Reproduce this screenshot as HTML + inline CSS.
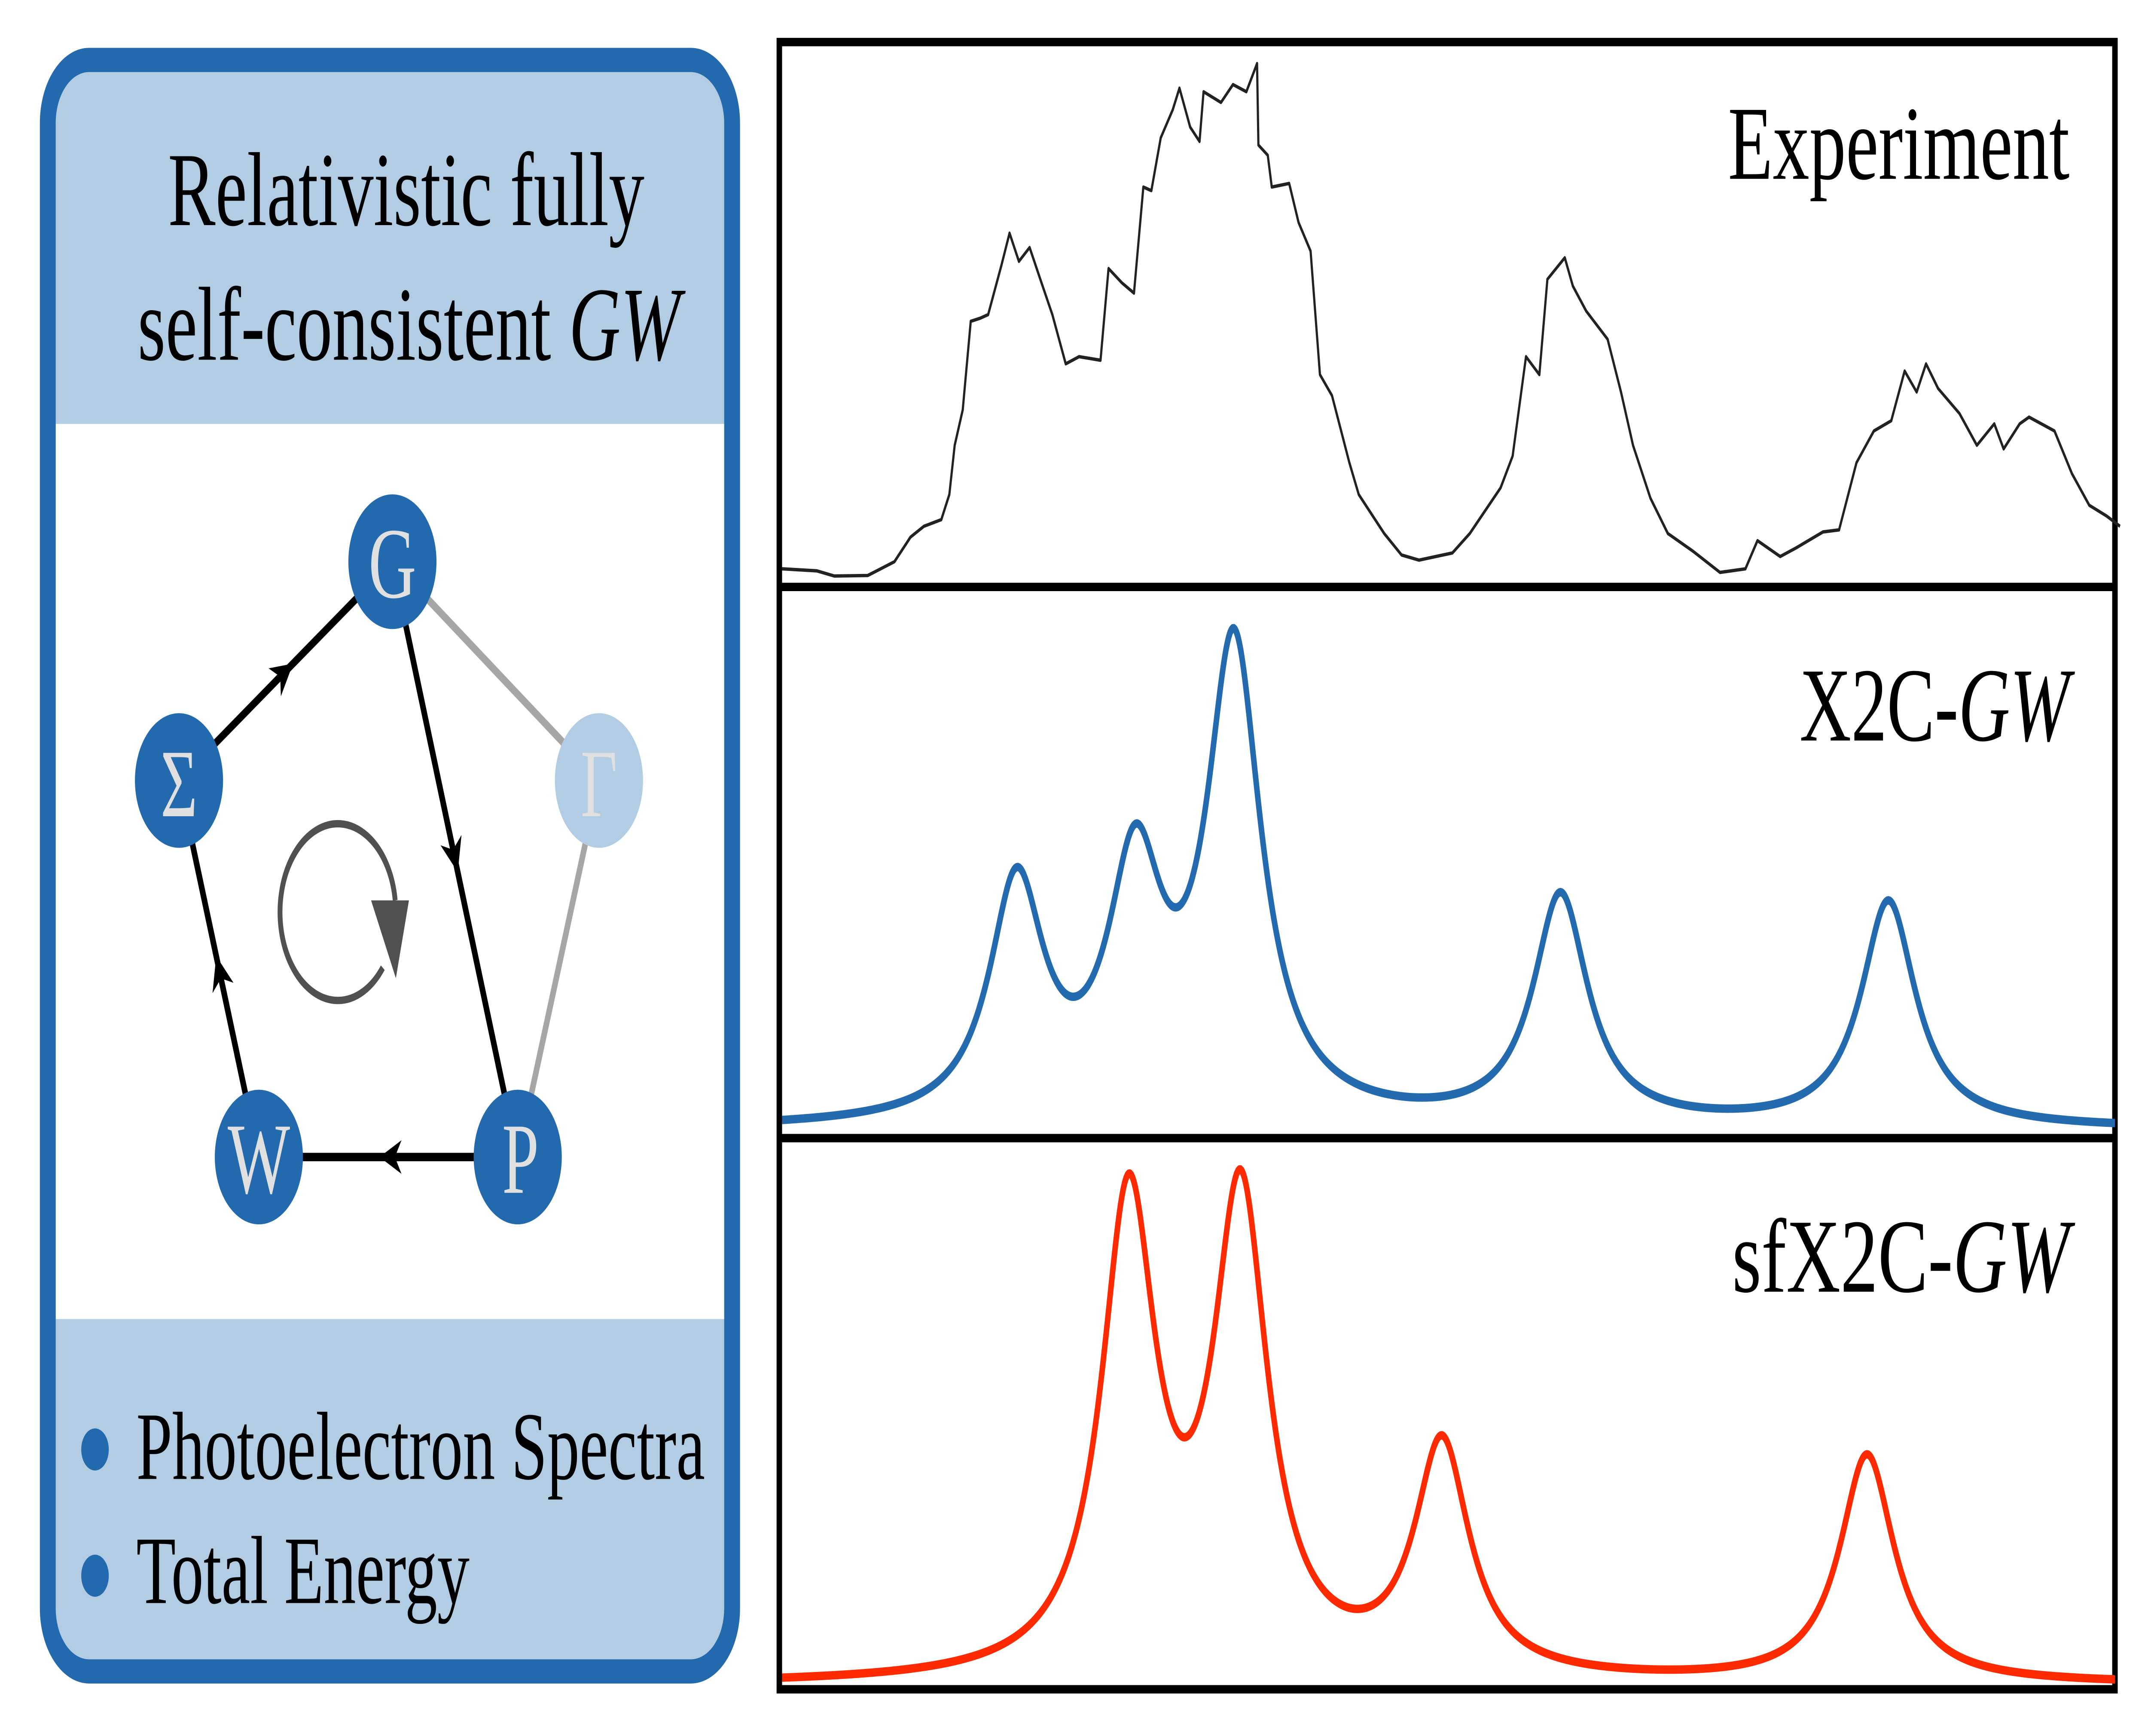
<!DOCTYPE html>
<html><head><meta charset="utf-8"><style>
html,body{margin:0;padding:0;background:#fff;overflow:hidden;width:100vw;height:100vh;}
svg{display:block;width:100vw;height:100vh;}
text{font-family:"Liberation Serif",serif;}
</style></head>
<body>
<svg id="fig" viewBox="0 0 1560 825.2" preserveAspectRatio="none" xmlns="http://www.w3.org/2000/svg">
<defs>
<marker id="arr" viewBox="0 0 10 10" refX="6" refY="5" markerWidth="4" markerHeight="4" orient="auto" markerUnits="strokeWidth">
<path d="M0,0 L10,5 L0,10 L3,5 z" fill="#000"/>
</marker>
</defs>
<g>
<rect x="34.7" y="28.5" width="497" height="766" rx="30" fill="#b2cce3"/>
<rect x="40.5" y="201.5" width="491" height="425.5" fill="#fff"/>
<rect x="34.7" y="28.5" width="497" height="766" rx="30" fill="none" stroke="#226aad" stroke-width="11.5"/>
<text x="122" y="107" font-size="50" textLength="346" lengthAdjust="spacingAndGlyphs">Relativistic fully</text>
<text x="100" y="171" font-size="50" textLength="394" lengthAdjust="spacingAndGlyphs">self-consistent <tspan font-style="italic">GW</tspan></text>

<line x1="285" y1="267" x2="435" y2="371" stroke="#a6a6a6" stroke-width="4"/>
<line x1="435" y1="371" x2="376" y2="550" stroke="#a6a6a6" stroke-width="4"/>
<polyline points="130,371 207.5,319 285,267" fill="none" stroke="#000" stroke-width="4" marker-mid="url(#arr)"/>
<polyline points="285,267 330.5,408.5 376,550" fill="none" stroke="#000" stroke-width="4" marker-mid="url(#arr)"/>
<polyline points="376,550 282,550 188,550" fill="none" stroke="#000" stroke-width="4" marker-mid="url(#arr)"/>
<polyline points="188,550 159,460.5 130,371" fill="none" stroke="#000" stroke-width="4" marker-mid="url(#arr)"/>

<path d="M278,460 A42 42 0 1 1 287,428" fill="none" stroke="#505050" stroke-width="3.5"/>
<polygon points="269.5,428 297,428 287.5,465" fill="#505050"/>

<g><circle cx="285" cy="267" r="32" fill="#226aad"/><text x="285" y="284" font-size="48" fill="#e0e0e0" text-anchor="middle">G</text></g>
<g><circle cx="130" cy="371" r="32" fill="#226aad"/><text x="130" y="388" font-size="46" fill="#e0e0e0" text-anchor="middle">Σ</text></g>
<g><circle cx="435" cy="371" r="32" fill="#b2cce3"/><text x="435" y="388" font-size="46" fill="#e0e0e0" text-anchor="middle">Γ</text></g>
<g><circle cx="188" cy="550" r="32" fill="#226aad"/><text x="188" y="567" font-size="48" fill="#e0e0e0" text-anchor="middle">W</text></g>
<g><circle cx="376" cy="550" r="32" fill="#226aad"/><text x="378" y="567" font-size="48" fill="#e0e0e0" text-anchor="middle">P</text></g>

<circle cx="69" cy="689" r="10" fill="#226aad"/>
<text x="99" y="703" font-size="46" textLength="413" lengthAdjust="spacingAndGlyphs">Photoelectron Spectra</text>
<circle cx="69" cy="749" r="10" fill="#226aad"/>
<text x="99" y="762" font-size="46" textLength="242" lengthAdjust="spacingAndGlyphs">Total Energy</text>
</g>

<g id="spectra">
<rect x="566" y="20" width="970" height="783" fill="none" stroke="#000" stroke-width="4"/>
<line x1="566" y1="279" x2="1536" y2="279" stroke="#000" stroke-width="4"/>
<line x1="566" y1="541" x2="1536" y2="541" stroke="#000" stroke-width="4"/>
<text x="1255" y="85" font-size="50" textLength="248" lengthAdjust="spacingAndGlyphs">Experiment</text>
<text x="1307" y="352" font-size="50" textLength="196" lengthAdjust="spacingAndGlyphs">X2C-<tspan font-style="italic">GW</tspan></text>
<text x="1258" y="614" font-size="50" textLength="245" lengthAdjust="spacingAndGlyphs">sfX2C-<tspan font-style="italic">GW</tspan></text>
</g>
</svg>
<script>
const expEnergy = [0,2.6,3.9,6.4,8.4,9.6,10.6,11.9,12.5,12.9,13.5,14.1,14.8,15.4,16.4,17.0,17.7,18.5,19.3,20.2,21.2,22.2,23.8,24.4,25.4,26.3,27.0,27.6,28.3,29.2,29.7,30.5,31.2,31.5,32.8,33.7,34.7,35.5,35.6,36.3,36.6,37.9,38.6,39.5,40.2,41.1,42.4,43.1,45.0,46.3,47.6,50.1,51.4,53.7,54.6,55.6,56.6,57.2,58.5,59.1,60.1,61.7,62.7,63.6,64.9,66.2,68.1,70.1,72.0,72.9,74.6,75.8,77.8,79.0,80.3,81.6,82.9,83.9,84.8,85.5,86.4,88.0,89.3,90.6,91.3,92.5,93.2,95.1,96.4,97.7,99.0,100];
const expIntensity = [1.4,1.0,0,0.1,2.8,7.6,9.7,11.0,15.9,25.5,32.4,49.7,50.3,51.0,60.7,66.9,61.4,64.1,57.9,51.0,41.4,42.8,42.1,60.0,57.2,55.2,75.9,75.2,85.5,91.0,95.2,87.6,84.8,94.5,92.4,95.9,94.5,100,84.1,82.1,75.9,76.6,69.0,63.4,39.3,35.2,22.1,15.9,8.3,4.1,3.1,4.5,8.3,17.2,23.4,42.8,39.3,57.9,62.1,56.6,51.7,46.2,35.9,25.5,15.2,8.3,4.8,0.7,1.4,6.9,3.8,5.5,8.6,9.0,22.1,28.3,30.3,40.0,35.9,41.4,36.6,31.7,25.5,29.7,24.8,29.7,31.0,28.3,20.0,13.8,11.7,9.7];
// X2C-GW quasiparticle peaks (energy, relative height)
const x2cPeakEnergy = [17.6,26.5,33.9,58.4,83.0];
const x2cPeakHeight = [0.444,0.456,0.892,0.434,0.428];
// sfX2C-GW peaks
const sfPeakEnergy = [26.0,34.4,49.5,81.4];
const sfPeakHeight = [0.895,0.896,0.439,0.432];
const broadening = 2.48;

const NS='http://www.w3.org/2000/svg';
const g = document.getElementById('spectra');
function xE(e){return 568 + e*9.717;}
function yE(i){return 273.8 - i*2.436;}
function xS(e){return 568 + e*9.68;}
function yBlue(v){return 537 - v*250;}
function yRed(v){return 801 - v*250;}

let d='';
for(let k=0;k<expEnergy.length;k++){d+=(k?'L':'M')+xE(expEnergy[k]).toFixed(2)+','+yE(expIntensity[k]).toFixed(2);}
const pe=document.createElementNS(NS,'path');
pe.setAttribute('d',d);pe.setAttribute('fill','none');pe.setAttribute('stroke','#222');pe.setAttribute('stroke-width','1.6');pe.setAttribute('stroke-linejoin','round');


g.appendChild(pe);

function spectrum(E,H,e){let s=0;for(let k=0;k<E.length;k++){const dd=e-E[k];s+=H[k]*broadening*broadening/(dd*dd+broadening*broadening);}return s;}
function curve(E,H,ys,color,name){
  let p='';
  for(let n=0;n<=1000;n++){const e=n/10;p+=(n?'L':'M')+xS(e).toFixed(2)+','+ys(spectrum(E,H,e)).toFixed(2);}
  const el=document.createElementNS(NS,'path');
  el.setAttribute('d',p);el.setAttribute('fill','none');el.setAttribute('stroke',color);el.setAttribute('stroke-width','4');el.setAttribute('stroke-linejoin','round');
  
  
  g.appendChild(el);
}
curve(x2cPeakEnergy,x2cPeakHeight,yBlue,'#236bae','x2c-gw-spectrum');
curve(sfPeakEnergy,sfPeakHeight,yRed,'#ff2a00','sfx2c-gw-spectrum');
</script>
</body></html>
